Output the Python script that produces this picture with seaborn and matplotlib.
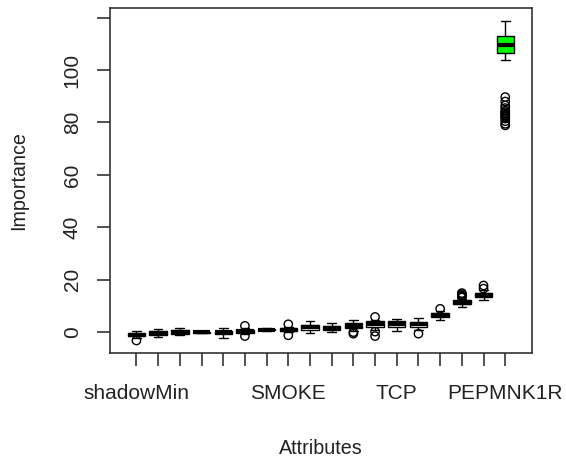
import numpy as np
import pandas as pd
import matplotlib.pyplot as plt
import seaborn as sns

# Boruta importance per attribute, sorted by median (only some names are printed on the axis)
tick_labels = ['shadowMin', '', '', '', '', '', '', 'SMOKE', '', '',
               '', '', 'TCP', '', '', '', '', 'PEPMNK1R']

lower_whisker = [-2.2, -1.9, -1.1, -0.3, -2.1, -0.8, 0.5, 0.0, -0.2, 0.2,
                 0.5, 0.8, 0.4, 1.0, 4.5, 9.5, 12.1, 103.7]
q1 = [-1.6, -1.1, -0.6, -0.2, -0.9, -0.5, 0.7, 0.3, 1.0, 1.0,
      1.7, 1.8, 1.9, 1.8, 5.7, 10.6, 13.4, 106.5]
median = [-1.1, -0.4, 0.1, 0.0, -0.1, 0.3, 1.0, 0.9, 1.8, 1.7,
          2.5, 3.0, 3.0, 3.2, 6.5, 11.3, 14.0, 109.7]
q3 = [-0.3, 0.3, 0.8, 0.2, 0.6, 1.0, 1.3, 1.6, 2.6, 2.4,
      3.4, 4.2, 4.1, 4.0, 7.3, 12.1, 14.9, 112.9]
upper_whisker = [0.4, 1.3, 1.4, 0.3, 1.7, 1.5, 1.5, 2.0, 4.2, 3.6,
                 4.5, 4.8, 5.1, 5.4, 8.0, 12.8, 15.9, 118.7]
outliers = [[-3.2], [], [], [], [], [2.4, -1.5], [], [3.0, -1.2], [], [],
            [-0.6, 0.0], [5.8, 0.2, -1.5], [], [-0.6], [8.9],
            [13.2, 13.6, 14.0, 14.5, 14.9], [16.6, 17.8],
            [89.7, 88.0, 86.5, 85.5, 84.5, 84.0, 83.5, 83.0, 82.5, 82.0,
             81.5, 80.5, 79.5, 78.9]]

box_colors = ['white'] * 17 + ['#00ff00']

rows = []
for i in range(len(tick_labels)):
    for v in (lower_whisker[i], q1[i], median[i], q3[i], upper_whisker[i]):
        rows.append((i, v))
df = pd.DataFrame(rows, columns=['pos', 'value'])

out_rows = [(i, v) for i, vals in enumerate(outliers) for v in vals]
df_out = pd.DataFrame(out_rows, columns=['pos', 'value'])

sns.set_style('ticks')
plt.rcParams['font.family'] = ['Liberation Sans', 'DejaVu Sans']

fig = plt.figure(figsize=(5.66, 4.58), dpi=100)
ax = fig.add_axes([0.1943, 0.2286, 0.7451, 0.7533])

sns.boxplot(data=df, x='pos', y='value', hue='pos', palette=box_colors, legend=False,
            whis=(0, 100), showfliers=False, width=0.8, saturation=1,
            linecolor='black', linewidth=1,
            medianprops={'linewidth': 3, 'color': 'black'}, ax=ax)
sns.scatterplot(data=df_out, x='pos', y='value', marker='o', s=36,
                facecolor='none', edgecolor='black', linewidth=1, ax=ax)

# R style axis expansion (4%)
all_vals = np.concatenate([df['value'].to_numpy(), df_out['value'].to_numpy()])
lo, hi = all_vals.min(), all_vals.max()
pad = 0.04 * (hi - lo)
ax.set_ylim(lo - pad, hi + pad)
n = len(tick_labels)
ax.set_xlim(-0.5 - 0.04 * n, n - 0.5 + 0.04 * n)

yt = [0, 20, 40, 60, 80, 100, 120]
ax.set_yticks(yt)
ax.set_yticklabels([str(t) for t in yt[:-1]] + [''], rotation=90, va='center')
ax.set_xticks(range(n))
ax.set_xticklabels(tick_labels)

sns.despine(ax=ax, top=False, right=False)
for s in ax.spines.values():
    s.set_color('#333333')
    s.set_linewidth(1.2)
ax.tick_params(axis='both', direction='out', length=9.4, width=1.2, color='#333333',
               labelsize=15, labelcolor='#222222', bottom=True, left=True)
ax.tick_params(axis='x', pad=13)
ax.tick_params(axis='y', pad=11)

ax.set_xlabel('Attributes', fontsize=14.2, color='#222222')
ax.set_ylabel('Importance', fontsize=14.2, color='#222222')
ax.xaxis.set_label_coords(0.5, -0.248)
ax.yaxis.set_label_coords(-0.1945, 0.5)

plt.savefig('out.png', dpi=100)
plt.close()
